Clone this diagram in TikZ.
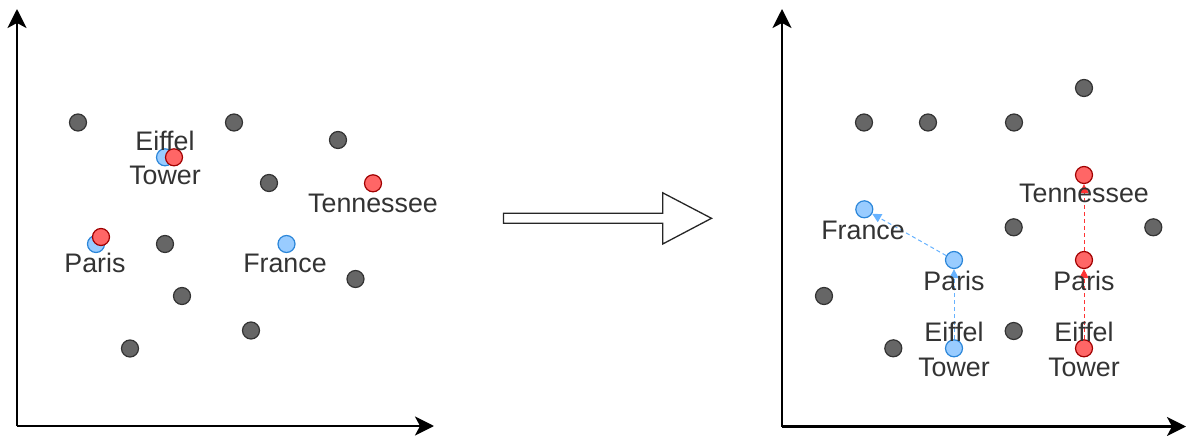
\documentclass[tikz,border=0pt]{standalone}
\usepackage{fontspec}
\setmainfont{Liberation Sans}
\usetikzlibrary{arrows.meta}
\definecolor{txt}{HTML}{333333}
\definecolor{dotfill}{HTML}{666666}
\definecolor{dotline}{HTML}{333333}
\definecolor{bluefill}{HTML}{99CCFF}
\definecolor{blueline}{HTML}{2B86D9}
\definecolor{redfill}{HTML}{FF6666}
\definecolor{redline}{HTML}{A00000}
\definecolor{bluedash}{HTML}{66B2FF}
\definecolor{reddash}{HTML}{FF3333}
\tikzset{
  pt/.style={circle,inner sep=0pt,minimum size=17pt,line width=1.2pt},
  graypt/.style={pt,draw=dotline,fill=dotfill},
  bluept/.style={pt,draw=blueline,fill=bluefill},
  redpt/.style={pt,draw=redline,fill=redfill},
  lbl/.style={inner sep=0pt,text=txt,font=\fontsize{26.8}{34.5}\selectfont,align=center},
  axis/.style={line width=2.4pt,black,-{Stealth[length=19pt,width=19pt,inset=5pt]}},
  bluelink/.style={draw=bluedash,line width=1pt,dash pattern=on 4pt off 3pt,
    -{Triangle[length=9pt,width=9pt,fill=bluedash]}},
  redlink/.style={draw=reddash,line width=1pt,dash pattern=on 4pt off 3pt,
    -{Triangle[length=9pt,width=9pt,fill=reddash]}},
  bigarrow/.style={draw=black!85,line width=1.3pt,fill=white,line join=miter}
}
\begin{document}
\begin{tikzpicture}[x=1pt,y=-1pt]
\useasboundingbox (0,0) rectangle (1187,436);

% ---- left plot: axes ----
\coordinate (lo) at (17,426);
\coordinate (ly) at (17,9);
\coordinate (lx) at (434,426);
\draw[axis] (lo) -- (ly);
\draw[axis] (lo) -- (lx);

% ---- left plot: points ----
\node[graypt] (l1) at (78,122.5) {};
\node[graypt] (l2) at (234,122.5) {};
\node[graypt] (l3) at (338,140) {};
\node[graypt] (l4) at (269,183) {};
\node[graypt] (l5) at (165,244) {};
\node[graypt] (l6) at (182,296) {};
\node[graypt] (l7) at (355.5,279) {};
\node[graypt] (l8) at (251,330.5) {};
\node[graypt] (l9) at (130,348.5) {};
\node[bluept] (leb) at (165,157.3) {};
\node[redpt]  (ler) at (174,157.3) {};
\node[redpt]  (ltr) at (373,183.3) {};
\node[bluept] (lpb) at (96,244) {};
\node[redpt]  (lpr) at (101,237) {};
\node[bluept] (lfb) at (286.5,244) {};

% ---- left plot: labels ----
\node[lbl,anchor=north] (leblbl) at (165,130.5) {Eiffel\\Tower};
\node[lbl,anchor=base] (ltlbl) at (373,212.5) {Tennessee};
\node[lbl,anchor=base] (lplbl) at (95,272.5) {Paris};
\node[lbl,anchor=base] (lflbl) at (285,272.5) {France};

% ---- transition arrow ----
\draw[bigarrow] (503.5,213.3) -- (662.7,213.3) -- (662.7,192.8) -- (711.5,218.3)
  -- (662.7,244) -- (662.7,223.3) -- (503.5,223.3) -- cycle;

% ---- right plot: axes ----
\coordinate (ro) at (782,426.5);
\coordinate (ry) at (782,9);
\coordinate (rx) at (1186,426.5);
\draw[axis] (ro) -- (ry);
\draw[axis] (ro) -- (rx);

% ---- right plot: points ----
\node[graypt] (r1) at (864,122.5) {};
\node[graypt] (r2) at (928,122.5) {};
\node[graypt] (r3) at (1014,122.5) {};
\node[graypt] (r4) at (1084,88) {};
\node[graypt] (r5) at (1013.7,227.3) {};
\node[graypt] (r6) at (1153.3,227.3) {};
\node[graypt] (r7) at (824,296) {};
\node[graypt] (r8) at (893.3,348.3) {};
\node[graypt] (r9) at (1013.7,331) {};
\node[bluept] (rfb) at (864.3,209.3) {};
\node[bluept] (rpb) at (954,260) {};
\node[bluept] (reb) at (954,348.3) {};
\node[redpt]  (rtr) at (1084,175) {};
\node[redpt]  (rpr) at (1084,260) {};
\node[redpt]  (rer) at (1084,348.3) {};

% ---- right plot: offset links ----
\draw[bluelink] (reb) -- (rpb);
\draw[bluelink] (rpb) -- (rfb);
\draw[redlink] (rer) -- (rpr);
\draw[redlink] (rpr) -- (rtr);

% ---- right plot: labels ----
\node[lbl,anchor=base] (rflbl) at (863,239) {France};
\node[lbl,anchor=base] (rpblbl) at (954,290) {Paris};
\node[lbl,anchor=north] (reblbl) at (954,322) {Eiffel\\Tower};
\node[lbl,anchor=base] (rtlbl) at (1084,202.5) {Tennessee};
\node[lbl,anchor=base] (rprlbl) at (1084,290) {Paris};
\node[lbl,anchor=north] (rerlbl) at (1084,322) {Eiffel\\Tower};
\end{tikzpicture}
\end{document}
